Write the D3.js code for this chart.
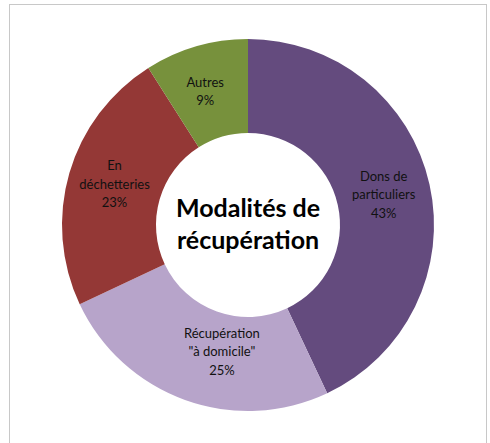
<!DOCTYPE html>
<html>
<head>
<meta charset="utf-8">
<script src="https://cdn.jsdelivr.net/npm/d3@7"></script>
<style>
  body { margin: 0; background: #fff; }
  svg text { font-family: Lato, "Open Sans", sans-serif; }
</style>
</head>
<body>
<svg id="chart" width="490" height="443"></svg>
<script>
// data, clockwise from 12 o'clock
var categories = ["Dons de particuliers", "Récupération \"à domicile\"", "En déchetteries", "Autres"];
var labelLines = [["Dons de", "particuliers"], ["Récupération", "\"à domicile\""], ["En", "déchetteries"], ["Autres"]];
var values = [43, 25, 23, 9];
var colors = ["#644b7e", "#b7a4ca", "#943836", "#77913c"];
var title = ["Modalités de", "récupération"];

// small nudges so labels sit where Excel put them
var labelShift = [[0, 0], [21, -4], [0, -2], [-4, 0]];

var width = 490, height = 443;
var cx = 248, cy = 225, outerR = 186, innerR = 92;

var svg = d3.select("#chart");

// chart area frame (bottom edge falls outside the picture)
svg.append("rect")
    .attr("x", 9.5).attr("y", 4.5)
    .attr("width", 477).attr("height", 460)
    .attr("fill", "none")
    .attr("stroke", "#c8c8c8")
    .attr("stroke-width", 1);

var data = categories.map(function (c, i) {
    return { name: c, value: values[i], lines: labelLines[i], color: colors[i], shift: labelShift[i] };
});

var pie = d3.pie().sort(null).value(function (d) { return d.value; });
var arc = d3.arc().innerRadius(innerR).outerRadius(outerR);

var g = svg.append("g").attr("transform", "translate(" + cx + "," + cy + ")");
var arcs = pie(data);

g.selectAll("path.slice")
    .data(arcs)
    .enter()
    .append("path")
    .attr("class", "slice")
    .attr("d", arc)
    .attr("fill", function (d) { return d.data.color; });

var total = d3.sum(values);
var lineH = 18.5;
var labels = g.selectAll("text.lbl")
    .data(arcs)
    .enter()
    .append("text")
    .attr("class", "lbl")
    .attr("text-anchor", "middle")
    .attr("font-size", "13px")
    .attr("fill", "#111")
    .attr("transform", function (d) {
        var c = arc.centroid(d);
        return "translate(" + (c[0] + d.data.shift[0]) + "," + (c[1] + d.data.shift[1]) + ")";
    });

labels.each(function (d) {
    var lines = d.data.lines.concat([Math.round(d.data.value / total * 100) + "%"]);
    var t = d3.select(this);
    var y0 = -(lines.length - 1) / 2 * lineH;
    lines.forEach(function (l, i) {
        t.append("tspan")
            .attr("x", 0)
            .attr("y", y0 + i * lineH)
            .attr("dy", "0.35em")
            .text(l);
    });
});

// hole title
var tt = g.append("text")
    .attr("text-anchor", "middle")
    .attr("font-size", "25px")
    .attr("font-weight", "bold")
    .attr("fill", "#000");
title.forEach(function (l, i) {
    tt.append("tspan")
        .attr("x", 0)
        .attr("y", -17 + i * 32)
        .attr("dy", "0.35em")
        .text(l);
});
</script>
</body>
</html>
